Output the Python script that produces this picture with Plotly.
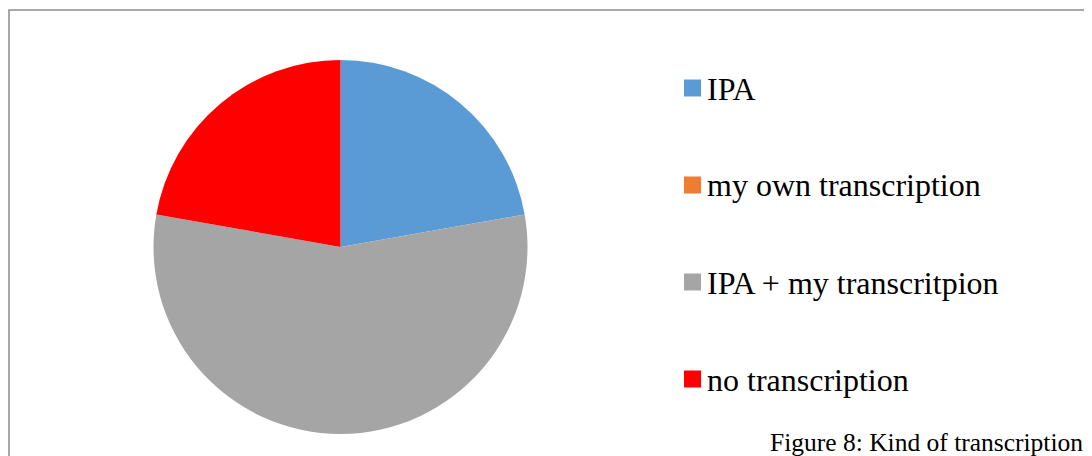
import plotly.graph_objects as go

# data
labels = ["IPA", "my own transcription", "IPA + my transcritpion", "no transcription"]
values = [2, 0, 5, 2]
colors = ["#5B9BD5", "#ED7D31", "#A5A5A5", "#FF0000"]
caption = "Figure 8: Kind of transcription"

W, H = 1092, 456
FONT = "Liberation Serif"
OFF = 8  # page body margin shifts the figure by 8 px


def px_x(x):
    return (x - OFF) / W


def px_y(y):
    # pixel from top of the window -> paper coordinate
    return 1 - (y - OFF) / H


fig = go.Figure()

# pie, centre (340, 247), radius ~187 px
cx, cy, r = 340.5, 247, 187
fig.add_trace(go.Pie(
    labels=labels,
    values=values,
    marker=dict(colors=colors, line=dict(width=0)),
    sort=False,
    direction="clockwise",
    rotation=0,
    textinfo="none",
    hoverinfo="label+value+percent",
    showlegend=False,
    domain=dict(x=[px_x(cx - r), px_x(cx + r)], y=[px_y(cy + r), px_y(cy - r)])
))

# legend drawn by hand so the spacing matches
shapes = []
annotations = []
legend_top = 88
legend_step = 97
for i, (lab, col) in enumerate(zip(labels, colors)):
    yc = legend_top + i * legend_step
    shapes.append(dict(
        type="rect", xref="paper", yref="paper",
        x0=px_x(684), x1=px_x(701), y0=px_y(yc + 8.5), y1=px_y(yc - 8.5),
        fillcolor=col, line=dict(width=0)
    ))
    annotations.append(dict(
        text=lab, xref="paper", yref="paper",
        x=px_x(705), y=px_y(yc + 0.5), xanchor="left", yanchor="middle",
        showarrow=False, font=dict(family=FONT, size=32, color="black")
    ))

# chart frame (runs off the right / bottom edge)
shapes.append(dict(
    type="rect", xref="paper", yref="paper",
    x0=px_x(9), x1=1.05, y0=-0.05, y1=px_y(10),
    line=dict(color="#8c8c8c", width=1.5), fillcolor="rgba(0,0,0,0)"
))

# caption at the bottom right
annotations.append(dict(
    text=caption, xref="paper", yref="paper",
    x=px_x(768), y=px_y(442), xanchor="left", yanchor="middle",
    showarrow=False, font=dict(family=FONT, size=25.5, color="black")
))

fig.update_layout(
    width=W,
    height=H,
    margin=dict(l=0, r=0, t=0, b=0),
    paper_bgcolor="white",
    plot_bgcolor="white",
    shapes=shapes,
    annotations=annotations
)

fig.write_html("out.html")
